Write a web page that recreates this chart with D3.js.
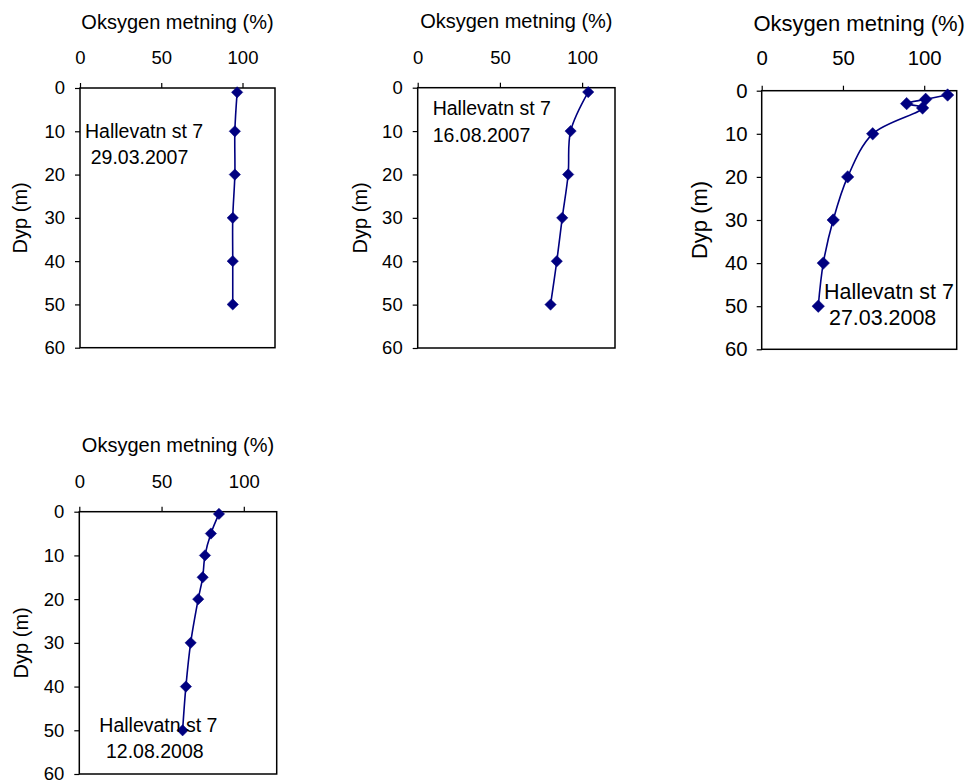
<!DOCTYPE html>
<html>
<head>
<meta charset="utf-8">
<script src="https://cdn.jsdelivr.net/npm/d3@7/dist/d3.min.js"></script>
<style>
  html, body { margin: 0; padding: 0; background: #ffffff; }
  svg { display: block; }
  text { font-family: "Liberation Sans", Arial, Helvetica, sans-serif; fill: #000; }
</style>
</head>
<body>
<svg id="chart" width="967" height="783"></svg>
<script>
// ---- data ----
const xTitle = "Oksygen metning (%)";
const yTitle = "Dyp (m)";
const xTicks = [0, 50, 100];
const yTicks = [0, 10, 20, 30, 40, 50, 60];

const depth1 = [1, 10, 20, 30, 40, 50];
const oxygen1 = [96.7, 95.3, 95.3, 94.0, 94.0, 94.0];
const label1 = ["Hallevatn st 7", "29.03.2007"];

const depth2 = [1, 10, 20, 30, 40, 50];
const oxygen2 = [103.7, 93.0, 91.5, 87.9, 84.6, 80.8];
const label2 = ["Hallevatn st 7", "16.08.2007"];

const depth3 = [1, 2, 3, 4, 10, 20, 30, 40, 50];
const oxygen3 = [114.4, 100.9, 89.2, 99.0, 68.3, 52.9, 44.0, 37.9, 34.8];
const label3 = ["Hallevatn st 7", "27.03.2008"];

const depth4 = [0.5, 5, 10, 15, 20, 30, 40, 50];
const oxygen4 = [84.9, 80.0, 76.4, 75.0, 72.3, 67.7, 64.8, 62.8];
const label4 = ["Hallevatn st 7", "12.08.2008"];

// ---- layout ----
const panels = [
  { depth: depth1, oxy: oxygen1, label: label1, x0: 80, x1: 275, y0: 88, y1: 347.7, fs: 1.0,
    yLabX: 27, lab: [[85, 137.5], [90.7, 163.5]] },
  { depth: depth2, oxy: oxygen2, label: label2, x0: 417.7, x1: 615, y0: 87.7, y1: 348, fs: 1.0,
    yLabX: 366.5, lab: [[432.7, 115], [432.7, 141.5]] },
  { depth: depth3, oxy: oxygen3, label: label3, x0: 761.7, x1: 956.7, y0: 90.7, y1: 349.3, fs: 1.1,
    yLabX: 706.5, lab: [[824, 298.5], [829, 325]] },
  { depth: depth4, oxy: oxygen4, label: label4, x0: 79.3, x1: 276.7, y0: 511.7, y1: 774, fs: 1.0,
    yLabX: 27.5, lab: [[99.3, 731.7], [106, 758.3]] }
];

const svg = d3.select("#chart");
svg.append("rect").attr("width", 967).attr("height", 783).attr("fill", "#fff");

const navy = "#000080";

panels.forEach(p => {
  const fs = p.fs;
  const x = d3.scaleLinear().domain([0, 120]).range([p.x0, p.x1]);
  const y = d3.scaleLinear().domain([0, 60]).range([p.y0, p.y1]);
  const g = svg.append("g");

  // x axis (top)
  const xa = g.append("g").attr("transform", `translate(0,${p.y0})`)
    .call(d3.axisTop(x).tickValues(xTicks).tickSize(5).tickSizeOuter(0).tickPadding(19.5 * fs - 0.5));
  // y axis (left)
  const ya = g.append("g").attr("transform", `translate(${p.x0},0)`)
    .call(d3.axisLeft(y).tickValues(yTicks).tickSize(5).tickSizeOuter(0).tickPadding(fs > 1 ? 9 : 10));
  [xa, ya].forEach(a => {
    a.select(".domain").remove();
    a.selectAll(".tick line").attr("stroke", "#000").attr("stroke-width", 1.2);
    a.selectAll(".tick text").attr("font-size", 18.5 * fs + "px")
      .attr("font-family", "'Liberation Sans', Arial, sans-serif").attr("fill", "#000");
  });

  // plot border
  g.append("rect")
    .attr("x", p.x0).attr("y", p.y0)
    .attr("width", p.x1 - p.x0).attr("height", p.y1 - p.y0)
    .attr("fill", "none").attr("stroke", "#000").attr("stroke-width", 1.5);

  // titles
  g.append("text")
    .attr("x", (p.x0 + p.x1) / 2).attr("y", p.y0 - 59.5)
    .attr("text-anchor", "middle").attr("font-size", 20 * fs + "px")
    .text(xTitle);
  g.append("text")
    .attr("transform", `translate(${p.yLabX},${(p.y0 + p.y1) / 2}) rotate(-90)`)
    .attr("text-anchor", "middle").attr("font-size", 20 * fs + "px")
    .text(yTitle);

  // line
  const pts = p.depth.map((d, i) => [p.oxy[i], d]);
  const line = d3.line().x(d => x(d[0])).y(d => y(d[1])).curve(d3.curveCatmullRom.alpha(0.5));
  g.append("path").attr("d", line(pts))
    .attr("fill", "none").attr("stroke", navy).attr("stroke-width", 1.6);

  // markers (diamonds)
  const sym = d3.symbol().type(d3.symbolSquare).size(64 * fs * fs);
  g.selectAll("path.mk").data(pts).enter().append("path")
    .attr("class", "mk")
    .attr("d", sym)
    .attr("transform", d => `translate(${x(d[0])},${y(d[1])}) rotate(45)`)
    .attr("fill", navy).attr("stroke", navy).attr("stroke-width", 0.5);

  // annotation
  p.label.forEach((t, i) => {
    g.append("text")
      .attr("x", p.lab[i][0]).attr("y", p.lab[i][1])
      .attr("font-size", 19.5 * fs + "px")
      .text(t);
  });
});
</script>
</body>
</html>
